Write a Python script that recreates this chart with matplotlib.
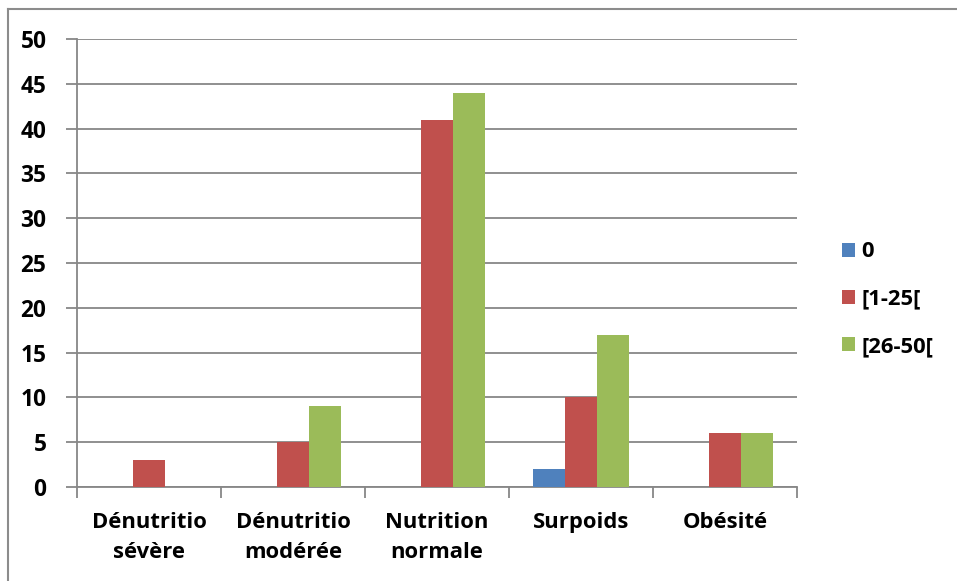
import matplotlib
matplotlib.use("Agg")
import matplotlib.pyplot as plt
import numpy as np
from matplotlib.lines import Line2D
from matplotlib.patches import Patch

categories = ["Dénutritio\nsévère", "Dénutritio\nmodérée", "Nutrition\nnormale", "Surpoids", "Obésité"]
series_names = ["0", "[1-25[", "[26-50["]
vals_0 = [0, 0, 0, 2, 0]
vals_1_25 = [3, 5, 41, 10, 6]
vals_26_50 = [0, 9, 44, 17, 6]
y_ticks = [0, 5, 10, 15, 20, 25, 30, 35, 40, 45, 50]

colors = ["#4F81BD", "#C0504D", "#9BBB59"]
grid_col = "#878787"

plt.rcParams["font.family"] = ["Open Sans", "DejaVu Sans"]
plt.rcParams["font.weight"] = "bold"
fsize = 15.8

fig = plt.figure(figsize=(9.57, 5.81), dpi=100)
ax = fig.add_axes([0.0805, 0.1618, 0.7523, 0.7711])

x = np.arange(len(categories))
w = 2 / 9  # three bars fill 2/3 of each category slot
for k, vals in enumerate([vals_0, vals_1_25, vals_26_50]):
    ax.bar(x + (k - 1) * w, vals, width=w, color=colors[k], zorder=3,
           label=series_names[k])

ax.set_xlim(-0.5, len(categories) - 0.5)
ax.set_ylim(0, 50)
ax.set_yticks(y_ticks)
ax.set_yticklabels([str(t) for t in y_ticks], fontsize=fsize + 0.5, fontweight="bold")
ax.yaxis.grid(True, color=grid_col, linewidth=1.3, zorder=0)

# category boundaries get the ticks, labels sit in the middle
ax.set_xticks(np.arange(len(categories) + 1) - 0.5)
ax.set_xticklabels([])
ax.set_xticks(x, minor=True)
ax.set_xticklabels(categories, minor=True, fontsize=fsize, fontweight="bold",
                   linespacing=1.55)
ax.tick_params(axis="x", which="minor", length=0, pad=18)
ax.tick_params(axis="x", which="major", length=8, width=1.3, color=grid_col)
ax.tick_params(axis="y", length=8, width=1.3, color=grid_col, pad=14)

for s in ["top", "right"]:
    ax.spines[s].set_visible(False)
for s in ["left", "bottom"]:
    ax.spines[s].set_color(grid_col)
    ax.spines[s].set_linewidth(1.3)

handles = [Patch(facecolor=c, edgecolor="none") for c in colors]
fig.legend(handles, series_names, loc="center left",
           bbox_to_anchor=(0.859, 0.485), frameon=False,
           prop={"size": fsize, "weight": "bold"},
           handlelength=0.6, handleheight=0.6, handletextpad=0.3,
           labelspacing=1.2)

# chart area border (top and left edges)
fig.add_artist(Line2D([0.008, 1.0], [1 - 9 / 581, 1 - 9 / 581],
                      color="#8c8c8c", linewidth=1.5, transform=fig.transFigure))
fig.add_artist(Line2D([0.008, 0.008], [0.0, 1 - 9 / 581],
                      color="#8c8c8c", linewidth=1.5, transform=fig.transFigure))

fig.savefig("out.png", dpi=100)
